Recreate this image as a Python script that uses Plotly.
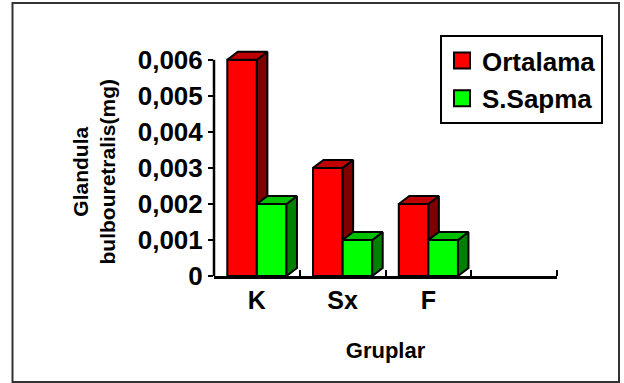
import plotly.graph_objects as go

# ---- data -------------------------------------------------------------
groups = ["K", "Sx", "F"]
ortalama = [0.006, 0.003, 0.002]      # mean
s_sapma = [0.002, 0.001, 0.001]       # standard deviation
y_ticks = [0, 0.001, 0.002, 0.003, 0.004, 0.005, 0.006]
y_tick_text = ["0", "0,001", "0,002", "0,003", "0,004", "0,005", "0,006"]

# ---- geometry -----------------------------------------------------------
W, H = 624, 383
L, R, T, B = 214, 67, 49, 107
PW, PH = W - L - R, H - T - B
Y_TOP = 0.0063
X_MIN, X_MAX = -0.5, 3.5              # one empty slot on the right

BAR_W = 0.345                          # bar width in category units
DX = 10.5 / PW * (X_MAX - X_MIN)       # 3-D depth, horizontal
DY = 8.0 / PH * Y_TOP                  # 3-D depth, vertical

FONT = "Arial, Liberation Sans, sans-serif"


def px_x(p):
    return (p - L) / PW


def px_y(p):
    return (H - B - p) / PH


def faces(values, offset):
    """Polygon outlines for the front, side and top faces of each bar."""
    front, side, top = ([], []), ([], []), ([], [])
    for i, v in enumerate(values):
        x0 = i + offset
        x1 = x0 + BAR_W
        for (xs, ys), px, py in (
            (front, [x0, x1, x1, x0, x0], [0, 0, v, v, 0]),
            (side, [x1, x1 + DX, x1 + DX, x1, x1], [0, DY, v + DY, v, 0]),
            (top, [x0, x1, x1 + DX, x0 + DX, x0], [v, v, v + DY, v + DY, v]),
        ):
            xs.extend(px + [None])
            ys.extend(py + [None])
    return front, side, top


series = [
    ("Ortalama", ortalama, -BAR_W, ("#FF0000", "#800000", "#C00000")),
    ("S.Sapma", s_sapma, 0.0, ("#00FF00", "#008000", "#00C000")),
]

fig = go.Figure()

for name, values, offset, colors in series:
    for (xs, ys), col in zip(faces(values, offset), colors):
        fig.add_trace(go.Scatter(
            x=xs, y=ys, mode="lines", fill="toself", fillcolor=col,
            line=dict(color="black", width=2), showlegend=False,
            hoverinfo="skip",
        ))

# legend entries
for name, values, offset, colors in series:
    fig.add_trace(go.Scatter(
        x=[None], y=[None], mode="markers", name=name, legendgroup=name,
        marker=dict(symbol="square", size=16, color=colors[0],
                    line=dict(color="black", width=2)),
    ))

fig.update_layout(
    width=W, height=H,
    margin=dict(l=L, r=R, t=T, b=B),
    paper_bgcolor="white", plot_bgcolor="white",
    font=dict(family=FONT, color="black"),
    showlegend=True,
    legend=dict(
        x=px_x(440), y=px_y(35), xanchor="left", yanchor="top",
        bgcolor="white", bordercolor="black", borderwidth=2,
        font=dict(size=26, weight="bold"),
        itemwidth=30, traceorder="grouped", tracegroupgap=1,
    ),
    xaxis=dict(
        range=[X_MIN, X_MAX], tickmode="array",
        tickvals=list(range(len(groups))), ticktext=groups,
        ticks="", showgrid=False, zeroline=False,
        showline=True, linecolor="black", linewidth=2.5,
        tickfont=dict(size=25, weight="bold"),
        minor=dict(tickmode="array",
                   tickvals=[X_MIN + k for k in range(5)],
                   ticks="inside", ticklen=6, tickwidth=2,
                   tickcolor="black", showgrid=False),
        title=dict(text="Gruplar", font=dict(size=22, weight="bold"),
                   standoff=30),
    ),
    yaxis=dict(
        range=[0, Y_TOP], tickmode="array",
        tickvals=y_ticks, ticktext=y_tick_text,
        ticks="outside", ticklen=5, tickwidth=2, tickcolor="black",
        showgrid=False, zeroline=False, showline=False,
        tickfont=dict(size=26, weight="bold"),
    ),
    annotations=[dict(
        text="Glandula<br>bulbouretralis(mg)", textangle=-90,
        xref="paper", yref="paper", x=px_x(93.5), y=px_y(172),
        xanchor="center", yanchor="middle", showarrow=False,
        font=dict(size=21, weight="bold"),
    )],
    shapes=[
        # y axis line, from 0 up to the last tick only
        dict(type="line", xref="paper", yref="y", x0=0, x1=0,
             y0=0, y1=y_ticks[-1], line=dict(color="black", width=2.5),
             layer="above"),
        # outer frame
        dict(type="rect", xref="paper", yref="paper",
             x0=px_x(12.5), x1=px_x(619), y0=px_y(382), y1=px_y(3),
             line=dict(color="#333333", width=2)),
    ],
)

fig.write_html("out.html")
